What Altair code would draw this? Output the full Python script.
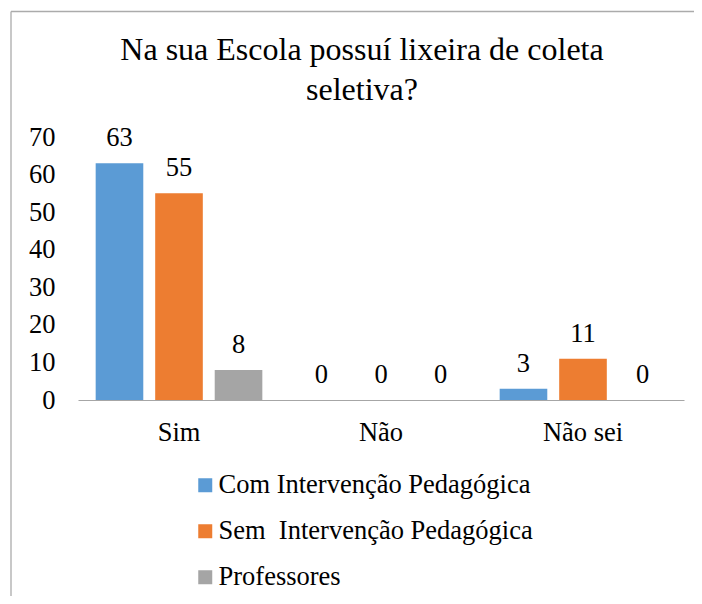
import altair as alt
import pandas as pd

categories = ["Sim", "Não", "Não sei"]
series = ["Com Intervenção Pedagógica", "Sem\u00a0 Intervenção Pedagógica", "Professores"]
com_intervencao = [63, 0, 3]
sem_intervencao = [55, 0, 11]
professores = [8, 0, 0]
colors = ["#5B9BD5", "#ED7D31", "#A5A5A5"]
y_ticks = [0, 10, 20, 30, 40, 50, 60, 70]

rows = []
for s, vals in zip(series, [com_intervencao, sem_intervencao, professores]):
    for c, v in zip(categories, vals):
        rows.append({"cat": c, "serie": s, "valor": v})
df = pd.DataFrame(rows)

FONT = "Liberation Serif"
FS = 26.5

x_axis = alt.Axis(labelAngle=0, labelPadding=19, domainColor="#A6A6A6", domainWidth=1.2,
                  labelFont=FONT, labelFontSize=FS, labelColor="black", ticks=False,
                  grid=False, labelOverlap=False)
y_axis = alt.Axis(values=y_ticks, domain=False, labelPadding=23, labelOverlap=False,
                  labelFont=FONT, labelFontSize=FS, labelColor="black", ticks=False,
                  grid=False)
x_scale = alt.Scale(paddingInner=0.116, paddingOuter=0.058)
y_scale = alt.Scale(domain=[0, 70], nice=False)
xo_scale = alt.Scale(paddingInner=0.2, paddingOuter=0.1)

bars = alt.Chart(df).mark_bar().encode(
    x=alt.X("cat:N", sort=categories, title=None, scale=x_scale, axis=x_axis),
    xOffset=alt.XOffset("serie:N", sort=series, scale=xo_scale),
    y=alt.Y("valor:Q", title=None, scale=y_scale, axis=y_axis),
    color=alt.Color("serie:N", sort=series, scale=alt.Scale(domain=series, range=colors),
                    legend=alt.Legend(title=None, orient="none", legendX=114, legendY=335,
                                      direction="vertical", symbolType="square", symbolSize=196,
                                      symbolStrokeWidth=0, labelFont=FONT, labelFontSize=FS,
                                      labelColor="black", rowPadding=19, labelOffset=0,
                                      padding=0, labelLimit=500)),
)

labels = alt.Chart(df).mark_text(baseline="alphabetic", dy=-17, font=FONT,
                                 fontSize=FS, color="black").encode(
    x=alt.X("cat:N", sort=categories, title=None, scale=x_scale, axis=x_axis),
    xOffset=alt.XOffset("serie:N", sort=series, scale=xo_scale),
    y=alt.Y("valor:Q", title=None, scale=y_scale, axis=y_axis),
    text="valor:Q")

frame_df = pd.DataFrame({"k": [0]})
top_line = alt.Chart(frame_df).mark_rule(color="#ABABAB", strokeWidth=1.3).encode(
    x=alt.value(-67), x2=alt.value(640), y=alt.value(-125.5))
left_line = alt.Chart(frame_df).mark_rule(color="#ABABAB", strokeWidth=1.3).encode(
    x=alt.value(-67), y=alt.value(-125.5), y2=alt.value(480))

chart = alt.layer(top_line, left_line, bars, labels).properties(
    width=606, height=263,
    autosize=alt.AutoSizeParams(type="none"),
    padding={"left": 70, "top": 129, "right": 10, "bottom": 196},
    title=alt.TitleParams(text=["Na sua Escola possuí lixeira de coleta", "seletiva?"],
                          font=FONT, fontSize=32, fontWeight="normal", color="black",
                          anchor="middle", frame="group", dx=-19, dy=116, offset=20, lineHeight=40),
).configure_view(stroke=None).configure_axis(
    labelFontSize=FS, labelColor="black", labelFont=FONT, ticks=False, tickSize=0, grid=False,
    labelOverlap=False
).configure_legend(labelFont=FONT).configure_text(font=FONT).configure_title(font=FONT)

chart.save("out.html", embed_options={"renderer": "svg", "actions": False})
